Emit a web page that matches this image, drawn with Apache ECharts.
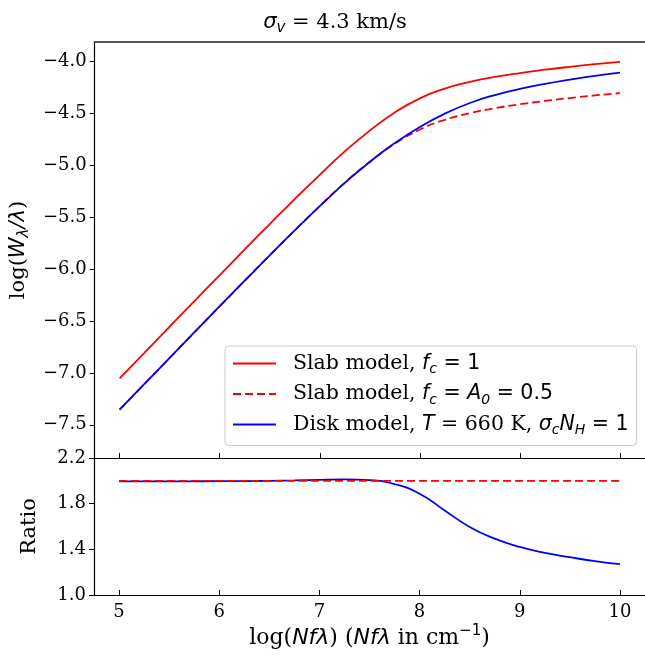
<!DOCTYPE html>
<html><head><meta charset="utf-8">
<script src="https://cdn.jsdelivr.net/npm/echarts@6/dist/echarts.min.js"></script>
<style>html,body{margin:0;padding:0;background:#fff}#c{width:645px;height:656px}</style>
</head><body><div id="c"></div>
<script>
// ---- data ----
const xValues   = [5, 5.25, 5.5, 5.75, 6, 6.25, 6.5, 6.75, 7, 7.25, 7.5, 7.75, 8, 8.25, 8.5, 8.75, 9, 9.25, 9.5, 9.75, 10];
const slabFull  = [-7.053, -6.804, -6.554, -6.305, -6.057, -5.810, -5.565, -5.324, -5.090, -4.864, -4.664, -4.489, -4.353, -4.259, -4.195, -4.147, -4.109, -4.077, -4.049, -4.024, -4.002];
const slabHalf  = [-7.354, -7.105, -6.855, -6.606, -6.358, -6.111, -5.866, -5.625, -5.391, -5.165, -4.965, -4.790, -4.654, -4.560, -4.496, -4.448, -4.410, -4.378, -4.350, -4.325, -4.303];
const diskModel = [-7.353, -7.104, -6.854, -6.605, -6.357, -6.111, -5.866, -5.626, -5.393, -5.168, -4.966, -4.784, -4.629, -4.500, -4.398, -4.321, -4.262, -4.213, -4.173, -4.137, -4.106];
const ratioSlab = [2.0, 2.0, 2.0, 2.0, 2.0, 2.0, 2.0, 2.0, 2.0, 2.0, 2.0, 2.0, 2.0, 2.0, 2.0, 2.0, 2.0, 2.0, 2.0, 2.0, 2.0];
const ratioDisk = [1.995, 1.995, 1.996, 1.996, 1.997, 1.998, 2.0, 2.004, 2.009, 2.012, 2.006, 1.971, 1.887, 1.741, 1.596, 1.494, 1.421, 1.369, 1.331, 1.297, 1.270];
const xTicks        = [5, 6, 7, 8, 9, 10];
const yTicksTop     = [-7.5, -7.0, -6.5, -6.0, -5.5, -5.0, -4.5, -4.0];
const yTicksRatio   = [1.0, 1.4, 1.8, 2.2];
const seriesNames   = ['slabFull', 'slabHalf', 'disk'];

const pairs = (ys) => xValues.map((x, i) => [x, ys[i]]);
const SERIF = 'DejaVu Serif', SANS = 'DejaVu Sans';
const rich = (fs, lh) => {
  const L = lh || fs + 6;
  return {
    s:  {fontFamily: SERIF, fontSize: fs, fontWeight: 'normal', color: '#000', lineHeight: L},
    m:  {fontFamily: SANS, fontSize: fs, fontWeight: 'normal', color: '#000', lineHeight: L},
    mi: {fontFamily: SANS, fontStyle: 'italic', fontWeight: 'normal', fontSize: fs, color: '#000', lineHeight: L},
    sb: {fontFamily: SANS, fontStyle: 'italic', fontWeight: 'normal', fontSize: Math.round(fs * 0.7), color: '#000', verticalAlign: 'bottom', lineHeight: Math.round(L * 0.75)},
    su: {fontFamily: SANS, fontWeight: 'normal', fontSize: Math.round(fs * 0.7), color: '#000', verticalAlign: 'top', lineHeight: Math.round(L * 0.75)},
    g:  {width: 12, fontSize: fs, lineHeight: L}
  };
};
const legendText = {
  slabFull: '{g| }{s|Slab model, }{mi|f}{sb|c}{m| = 1}',
  slabHalf: '{g| }{s|Slab model, }{mi|f}{sb|c}{m| = }{mi|A}{sb|0}{m| = 0.5}',
  disk:     '{g| }{s|Disk model, }{mi|T}{s| = 660 K, }{mi|σ}{sb|c}{mi|N}{sb|H}{m| = 1}'
};

const fmt = (v) => (Math.round(v * 10) / 10).toFixed(1).replace('-', '\u2212');
const tickLabel = {fontFamily: SERIF, fontSize: 18, color: '#000', margin: 8};
const axisLine = {show: true, lineStyle: {color: '#000', width: 1.2}};
const tick = (vals, inside) => ({show: true, inside: inside, length: 5, customValues: vals, lineStyle: {color: '#000', width: 1}});

const chart = echarts.init(document.getElementById('c'), null, {renderer: 'canvas'});
chart.setOption({
  animation: false,
  backgroundColor: '#fff',
  title: {
    text: '{mi|σ}{sb|v}{s| = 4.3 km/s}',
    left: 330, top: 4, textAlign: 'center',
    textStyle: {fontWeight: 'normal', rich: rich(21)}
  },
  grid: [
    {left: 94, top: 42, width: 554, height: 416, show: false},
    {left: 94, top: 458, width: 554, height: 137, show: false}
  ],
  legend: {
    data: seriesNames,
    orient: 'vertical', left: 225, top: 346,
    itemWidth: 43, itemHeight: 14, itemGap: 7,
    padding: [7, 8, 8, 7],
    borderColor: '#cccccc', borderWidth: 1, borderRadius: 4,
    backgroundColor: 'rgba(255,255,255,0.8)',
    itemStyle: {opacity: 0},
    formatter: (n) => legendText[n],
    textStyle: {rich: rich(20.5, 26)}
  },
  xAxis: [
    {gridIndex: 0, type: 'value', min: 4.75, max: 10.25,
     axisLine, splitLine: {show: false},
     axisTick: tick(xTicks, true),
     axisLabel: {show: false, customValues: xTicks}},
    {gridIndex: 1, type: 'value', min: 4.75, max: 10.25,
     axisLine, splitLine: {show: false},
     axisTick: tick(xTicks, true),
     axisLabel: Object.assign({customValues: xTicks, formatter: (v) => String(v)}, tickLabel),
     name: '{s|log(}{mi|Nfλ}{s|) (}{mi|Nfλ}{s| in cm}{su|−1}{s|)}',
     nameLocation: 'middle', nameGap: 29,
     nameTextStyle: {rich: rich(22)}},
    {gridIndex: 0, type: 'value', position: 'top', min: 4.75, max: 10.25,
     axisLine: {show: true, lineStyle: {color: '#555', width: 2}},
     axisTick: {show: false}, axisLabel: {show: false}, splitLine: {show: false}}
  ],
  yAxis: [
    {gridIndex: 0, type: 'value', min: -7.82, max: -3.81,
     axisLine, splitLine: {show: false},
     axisTick: tick(yTicksTop, false),
     axisLabel: Object.assign({customValues: yTicksTop, formatter: fmt}, tickLabel),
     name: '{s|log(}{mi|W}{sb|λ}{mi|/λ}{s|)}',
     nameLocation: 'middle', nameGap: 61, nameRotate: 90,
     nameTextStyle: {rich: rich(21)}},
    {gridIndex: 1, type: 'value', min: 1.0, max: 2.2,
     axisLine, splitLine: {show: false},
     axisTick: tick(yTicksRatio, false),
     axisLabel: Object.assign({customValues: yTicksRatio, formatter: fmt}, tickLabel),
     name: '{s|Ratio}',
     nameLocation: 'middle', nameGap: 51, nameRotate: 90,
     nameTextStyle: {rich: rich(21)}}
  ],
  series: [
    {name: 'slabFull', type: 'line', xAxisIndex: 0, yAxisIndex: 0, data: pairs(slabFull), smooth: true, symbol: 'none',
     lineStyle: {color: '#ff0000', width: 1.8}, itemStyle: {color: '#ff0000'}},
    {name: 'slabHalf', type: 'line', xAxisIndex: 0, yAxisIndex: 0, data: pairs(slabHalf), smooth: true, symbol: 'none',
     lineStyle: {color: '#ff0000', width: 1.8, type: [8, 4]}, itemStyle: {color: '#ff0000'}},
    {name: 'disk', type: 'line', xAxisIndex: 0, yAxisIndex: 0, data: pairs(diskModel), smooth: true, symbol: 'none',
     lineStyle: {color: '#0000ff', width: 1.8}, itemStyle: {color: '#0000ff'}},
    {name: 'disk', type: 'line', xAxisIndex: 1, yAxisIndex: 1, data: pairs(ratioDisk), smooth: true, symbol: 'none',
     lineStyle: {color: '#0000ff', width: 1.8}, itemStyle: {color: '#0000ff'}},
    {name: 'slabHalf', type: 'line', xAxisIndex: 1, yAxisIndex: 1, data: pairs(ratioSlab), symbol: 'none',
     lineStyle: {color: '#ff0000', width: 1.8, type: [8, 4]}, itemStyle: {color: '#ff0000'}}
  ]
});
</script></body></html>
